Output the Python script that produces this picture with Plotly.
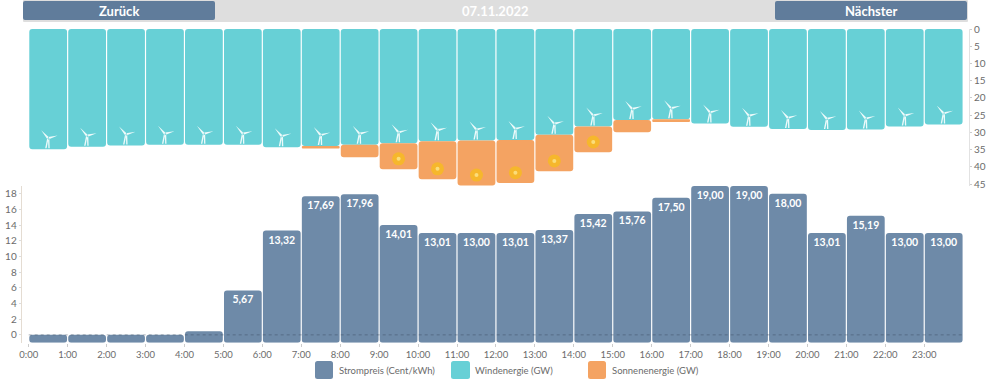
import plotly.graph_objects as go

hours = [f"{h}:00" for h in range(24)]
wind = [34.9, 34.2, 33.8, 33.6, 33.6, 33.6, 34.3, 34.0, 33.6, 33.2, 32.6, 32.4,
        32.2, 30.7, 28.3, 26.4, 26.2, 27.4, 28.4, 29.0, 29.3, 29.2, 28.3, 27.7]
solar = [0, 0, 0, 0, 0, 0, 0, 0.7, 3.6, 7.5, 11.0, 13.0,
         12.5, 10.6, 7.5, 3.6, 0.8, 0, 0, 0, 0, 0, 0, 0]
price = [0, 0, 0, 0, 0.45, 5.67, 13.32, 17.69, 17.96, 14.01, 13.01, 13.00,
         13.01, 13.37, 15.42, 15.76, 17.50, 19.00, 19.00, 18.00, 13.01, 15.19, 13.00, 13.00]
top_ticks = [0, 5, 10, 15, 20, 25, 30, 35, 40, 45]
price_ticks = [0, 2, 4, 6, 8, 10, 12, 14, 16, 18]
date_label = "07.11.2022"
prev_label = "Zurück"
next_label = "Nächster"
price_name = "Strompreis (Cent/kWh)"
wind_name = "Windenergie (GW)"
solar_name = "Sonnenenergie (GW)"

W, H = 990, 382
BLUE, TEAL, ORANGE = "#6E8AA8", "#67D0D6", "#F4A362"
BTN = "#607C9B"
FONT = "Lato, Roboto, sans-serif"
GREY = "#6b6b6b"

centers = [i + 0.5 for i in range(24)]


def fx(p):
    return p / W


def fy(p):
    return 1 - p / H


def rrect(x0, y0, x1, y1, r, color):
    path = (f"M{fx(x0+r)},{fy(y0)} L{fx(x1-r)},{fy(y0)} Q{fx(x1)},{fy(y0)} {fx(x1)},{fy(y0+r)} "
            f"L{fx(x1)},{fy(y1-r)} Q{fx(x1)},{fy(y1)} {fx(x1-r)},{fy(y1)} "
            f"L{fx(x0+r)},{fy(y1)} Q{fx(x0)},{fy(y1)} {fx(x0)},{fy(y1-r)} "
            f"L{fx(x0)},{fy(y0+r)} Q{fx(x0)},{fy(y0)} {fx(x0+r)},{fy(y0)} Z")
    return dict(type="path", path=path, xref="paper", yref="paper",
                fillcolor=color, line=dict(width=0), layer="below")


def label(x, y, text, size, color, anchor="center", weight="normal"):
    return dict(x=fx(x), y=fy(y), xref="paper", yref="paper", text=text, showarrow=False,
                xanchor=anchor, yanchor="middle",
                font=dict(family=FONT, size=size, color=color, weight=weight))


fig = go.Figure()
fig.add_bar(x=centers, y=wind, base=0, width=0.97, name=wind_name, xaxis="x", yaxis="y",
            marker=dict(color=TEAL, cornerradius=3, line=dict(width=0)), cliponaxis=False)
fig.add_bar(x=centers, y=solar, base=wind, width=0.97, name=solar_name, xaxis="x", yaxis="y",
            marker=dict(color=ORANGE, cornerradius=3, line=dict(width=0)), cliponaxis=False)

sun_x = [c for c, s in zip(centers, solar) if s >= 7]
sun_y = [w + s - 3 for w, s in zip(wind, solar) if s >= 7]
fig.add_scatter(x=sun_x, y=sun_y, mode="markers", xaxis="x", yaxis="y", cliponaxis=False,
                marker=dict(size=13, color="#F6B72C", line=dict(width=0)), showlegend=False)
fig.add_scatter(x=sun_x, y=sun_y, mode="markers", xaxis="x", yaxis="y", cliponaxis=False,
                marker=dict(size=4, color="#FBDD7A", line=dict(width=0)), showlegend=False)

price_text = [f"{v:.2f}".replace(".", ",") if v >= 1 else "" for v in price]
fig.add_bar(x=centers, y=[v + 1 for v in price], base=-1, width=0.97, name=price_name,
            xaxis="x2", yaxis="y2", marker=dict(color=BLUE, cornerradius=3, line=dict(width=0)),
            text=price_text, textposition="inside", insidetextanchor="end", textangle=0,
            constraintext="none",
            textfont=dict(family=FONT, size=10.5, color="white", weight="bold"), cliponaxis=False)

shapes = [
    rrect(23, 0, 968, 22, 1, "#DEDEDE"),
    rrect(23, 1, 215, 20, 2, BTN),
    rrect(775, 1, 967, 20, 2, BTN),
    rrect(315, 361, 333, 379, 2.5, BLUE),
    rrect(451, 361, 470, 379, 2.5, TEAL),
    rrect(588, 361, 606, 379, 2.5, ORANGE),
    dict(type="line", xref="x2", yref="y2", x0=0, x1=24, y0=0, y1=0, layer="above",
         line=dict(color="rgba(50,65,85,0.4)", width=1, dash="3px,3px")),
]

# Turbine glyph: pixel offsets from the bottom edge of each wind bar.
H0 = 11
turbine = (f"M1,{H0+0.6} L-7,{H0+8} L-1,{H0-0.8} Z "
           f"M0,{H0+1.2} L9.5,{H0+2.6} L0.2,{H0-1.2} Z "
           f"M-1,{H0} L-3,{H0-10} L-1.6,{H0-10} L0.4,{H0} Z "
           f"M-0.2,{H0} L0.2,{H0-10} L1.5,{H0-10} L1.2,{H0} Z")
for c, w in zip(centers, wind):
    shapes.append(dict(type="path", xref="x", yref="y", xsizemode="pixel", ysizemode="pixel",
                       xanchor=c, yanchor=w, path=turbine, fillcolor="#EDFAFA",
                       line=dict(width=0), layer="above"))

annotations = [
    label(119, 11.5, prev_label, 13, "white", weight="bold"),
    label(871, 11.5, next_label, 13, "white", weight="bold"),
    label(495, 11.5, date_label, 13, "white", weight="bold"),
    label(337, 370.5, price_name, 9.5, GREY, "left"),
    label(473, 370.5, wind_name, 9.5, GREY, "left"),
    label(610, 370.5, solar_name, 9.5, GREY, "left"),
]

xrange_ = [-0.18, 24.15]
x_dom = [fx(21.7), fx(969)]
fig.update_layout(
    width=W, height=H, autosize=False, margin=dict(l=0, r=0, t=0, b=0, autoexpand=False),
    paper_bgcolor="white", plot_bgcolor="white", barmode="overlay", showlegend=False,
    font=dict(family=FONT, size=10, color=GREY),
    shapes=shapes, annotations=annotations,
    xaxis=dict(domain=x_dom, range=xrange_, visible=False, anchor="y", automargin=False),
    yaxis=dict(domain=[fy(186), fy(29)], range=[45.58, 0], side="right", anchor="x", automargin=False,
               tickvals=top_ticks, ticks="outside", ticklen=2, tickcolor="#cccccc",
               showline=True, linecolor="#e2e2e2", showgrid=False, zeroline=False,
               tickfont=dict(size=10, color=GREY)),
    xaxis2=dict(domain=x_dom, range=xrange_, anchor="y2", tickvals=list(range(24)), automargin=False,
                ticktext=hours, ticks="outside", ticklen=3, tickcolor="#cccccc",
                showline=False, showgrid=False, zeroline=False,
                tickfont=dict(size=9.5, color=GREY)),
    yaxis2=dict(domain=[fy(342.7), fy(186)], range=[-1, 19], anchor="x2", tickvals=price_ticks,
                automargin=False, ticks="outside", ticklen=2, tickcolor="#dddddd", showline=True,
                linecolor="#e4dcd2", showgrid=False, zeroline=False,
                tickfont=dict(size=10, color=GREY)),
)
fig.write_html("out.html", config=dict(displayModeBar=False),
               post_script="document.body.style.margin='0';document.body.style.overflow='hidden';")
